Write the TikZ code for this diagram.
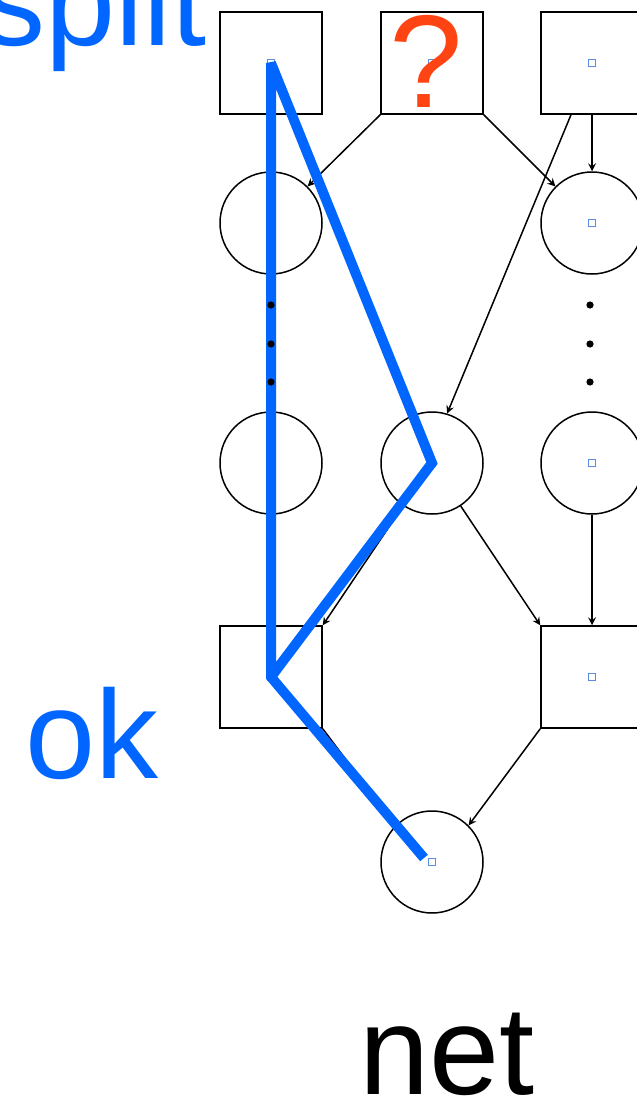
\documentclass[tikz,border=0pt]{standalone}
\usepackage{fontspec}
\setmainfont{Liberation Sans}
\definecolor{okblue}{RGB}{0,102,255}
\definecolor{qred}{RGB}{255,68,20}
\definecolor{markblue}{RGB}{90,140,230}
\begin{document}
\begin{tikzpicture}[>=stealth, x=0.5pt, y=-0.5pt,
  trans/.style={draw, line width=0.75pt, minimum size=51pt, inner sep=0pt},
  place/.style={circle, draw, line width=0.75pt, minimum size=51pt, inner sep=0pt},
  arc/.style={->, line width=0.75pt},
  bigtext/.style={font=\fontsize{63}{70}\selectfont, inner sep=0pt, anchor=base}]
\path[use as bounding box, clip] (0,0) rectangle (637,1103);

\node[trans] (t1) at (271,63) {};
\node[trans] (t2) at (432,63) {};
\node[trans] (t3) at (592,63) {};
\node[place] (p1) at (271,223) {};
\node[place] (p3) at (592,223) {};
\node[place] (p4) at (271,463) {};
\node[place] (p5) at (432,463) {};
\node[place] (p6) at (592,463) {};
\node[trans] (t4) at (271,677) {};
\node[trans] (t5) at (592,677) {};
\node[place] (p7) at (432,862) {};

\foreach \n in {t1,t2,t3,p1,p3,p4,p5,p6,t4,t5,p7}
  \draw[markblue, line width=0.8pt] ([shift={(-1.8pt,-1.8pt)}]\n.center) rectangle ([shift={(1.8pt,1.8pt)}]\n.center);

\draw[arc] (t1) -- (p1);
\draw[arc] (t2.south west) -- (p1.45);
\draw[arc] (t2.south east) -- (p3.135);
\draw[arc] (t3) -- (p3);
\draw[arc] ([xshift=-10.5pt]t3.south) -- (p5.73);
\draw[arc] (t1) -- (p5);
\draw[arc] (p4) -- (t4);
\draw[arc] (p5) -- (t4.north east);
\draw[arc] (p5) -- (t5.north west);
\draw[arc] (p6) -- (t5);
\draw[arc] (t4.south east) -- (p7.135);
\draw[arc] (t5.south west) -- (p7.45);

\draw[okblue, line width=5pt, miter limit=2] (t4.center) -- (p5.center) -- (t1.center) -- (t4.center) -- ([shift={(-4pt,2pt)}]p7.center);

\foreach \y in {305,344,382}{
  \fill (271,\y) circle (1.8pt);
  \fill (590,\y) circle (1.8pt);
}

\node[bigtext, qred, font=\fontsize{66}{70}\selectfont] (quest) at (426,107) {?};
\node[bigtext, okblue, anchor=base east] (split) at (207,45) {split};
\node[bigtext, okblue, anchor=base west] (ok) at (25,778) {ok};
\node[bigtext] (net) at (447,1094) {net};
\end{tikzpicture}
\end{document}
